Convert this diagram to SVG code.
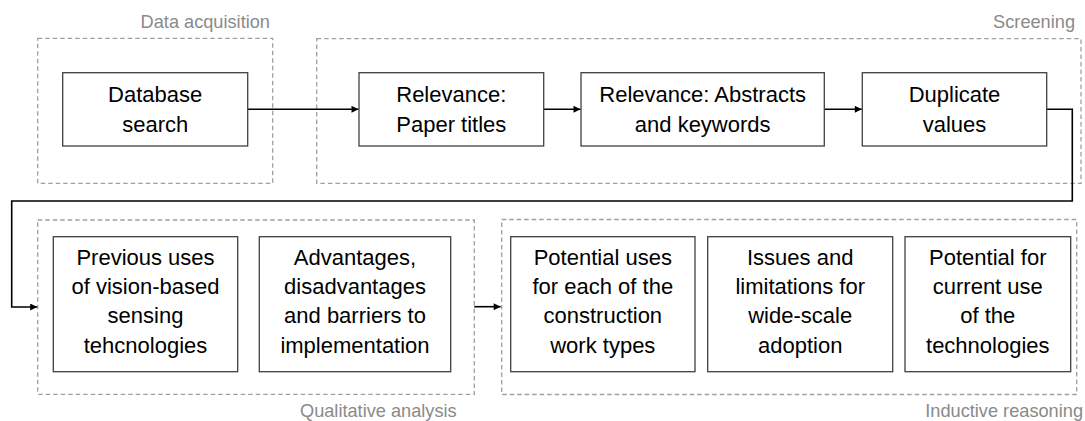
<svg xmlns="http://www.w3.org/2000/svg" width="1085" height="421" viewBox="0 0 1085 421">
<defs>
<marker id="ah" viewBox="0 0 10 10" refX="10" refY="5" markerWidth="8" markerHeight="7" markerUnits="userSpaceOnUse" orient="auto">
<path d="M0,0 L10,5 L0,10 z" fill="#000"/>
</marker>
<style>
.grp{fill:none;stroke:#a0a0a0;stroke-width:1.3;stroke-dasharray:4.5 3}
.glabel{font-family:"Liberation Sans",Arial,sans-serif;font-size:18.2px;fill:#8a8a8a;text-anchor:end}
.box{fill:#fff;stroke:#404040;stroke-width:1.3}
.t{font-family:"Liberation Sans",Arial,sans-serif;font-size:22px;fill:#000;text-anchor:middle}
.conn{fill:none;stroke:#000;stroke-width:1.6;marker-end:url(#ah)}
</style>
</defs>
<rect width="1085" height="421" fill="#fff"/>

<g id="group-data-acquisition">
<rect class="grp" x="37.7" y="38.3" width="235" height="145"/>
<text class="glabel" x="270" y="28">Data acquisition</text>
</g>
<g id="group-screening">
<rect class="grp" x="316.7" y="38.7" width="764.3" height="144.6"/>
<text class="glabel" x="1075" y="28">Screening</text>
</g>
<g id="group-qualitative">
<rect class="grp" x="37.7" y="220" width="436.6" height="174.3"/>
<text class="glabel" x="456.7" y="416.7">Qualitative analysis</text>
</g>
<g id="group-inductive">
<rect class="grp" x="501.7" y="219.5" width="575" height="175"/>
<text class="glabel" x="1083" y="416.7">Inductive reasoning</text>
</g>

<g id="connectors">
<path class="conn" d="M248,109.3 H358.5"/>
<path class="conn" d="M543.7,109.3 H580.5"/>
<path class="conn" d="M824.3,109.3 H861.8"/>
<path class="conn" d="M1046.7,109.3 H1072.3 V201 H11.7 V307 H37.2"/>
<path class="conn" d="M474.3,306.7 H500.7"/>
</g>

<g id="node-database-search">
<rect class="box" x="62.7" y="72.7" width="185" height="73.3"/>
<text class="t" x="155.2" y="101.7">Database</text>
<text class="t" x="155.2" y="131.7">search</text>
</g>
<g id="node-paper-titles">
<rect class="box" x="359" y="72.7" width="184.7" height="73.3"/>
<text class="t" x="451.3" y="101.7">Relevance:</text>
<text class="t" x="451.3" y="131.7">Paper titles</text>
</g>
<g id="node-abstracts">
<rect class="box" x="581" y="72.7" width="243.3" height="73.3"/>
<text class="t" x="702.7" y="101.7">Relevance: Abstracts</text>
<text class="t" x="702.7" y="131.7">and keywords</text>
</g>
<g id="node-duplicate">
<rect class="box" x="862.3" y="72.7" width="184.4" height="73.3"/>
<text class="t" x="954.5" y="101.7">Duplicate</text>
<text class="t" x="954.5" y="131.7">values</text>
</g>

<g id="node-previous-uses">
<rect class="box" x="53.3" y="236.7" width="184.4" height="135"/>
<text class="t" x="145.5" y="265">Previous uses</text>
<text class="t" x="145.5" y="294.3">of vision-based</text>
<text class="t" x="145.5" y="323.3">sensing</text>
<text class="t" x="145.5" y="353.3">tehcnologies</text>
</g>
<g id="node-advantages">
<rect class="box" x="259.3" y="236.7" width="191.4" height="135"/>
<text class="t" x="355" y="265">Advantages,</text>
<text class="t" x="355" y="294.3">disadvantages</text>
<text class="t" x="355" y="323.3">and barriers to</text>
<text class="t" x="355" y="353.3">implementation</text>
</g>
<g id="node-potential-uses">
<rect class="box" x="510.7" y="236.7" width="184.3" height="135"/>
<text class="t" x="602.8" y="265">Potential uses</text>
<text class="t" x="602.8" y="294.3">for each of the</text>
<text class="t" x="602.8" y="323.3">construction</text>
<text class="t" x="602.8" y="353.3">work types</text>
</g>
<g id="node-issues">
<rect class="box" x="707.7" y="236.7" width="185" height="135"/>
<text class="t" x="800.2" y="265">Issues and</text>
<text class="t" x="800.2" y="294.3">limitations for</text>
<text class="t" x="800.2" y="323.3">wide-scale</text>
<text class="t" x="800.2" y="353.3">adoption</text>
</g>
<g id="node-potential-current">
<rect class="box" x="905" y="236.7" width="165.7" height="135"/>
<text class="t" x="987.8" y="265">Potential for</text>
<text class="t" x="987.8" y="294.3">current use</text>
<text class="t" x="987.8" y="323.3">of the</text>
<text class="t" x="987.8" y="353.3">technologies</text>
</g>
</svg>
